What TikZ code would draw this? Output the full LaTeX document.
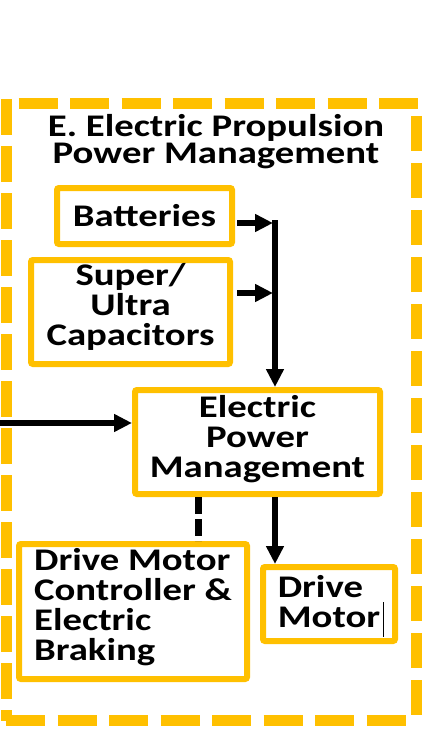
\documentclass[tikz,border=0pt]{standalone}
\usepackage{fontspec}
\newfontfamily\boxfont{Carlito}[FakeStretch=1.23]
\usepackage{tikz}
\usetikzlibrary{arrows.meta}
\definecolor{gold}{HTML}{FFC000}

\tikzset{
	frame/.style={draw=gold, line width=11pt},
	blk/.style={draw=gold, line width=6pt, rounded corners=2pt, inner sep=0pt, align=center, text depth=0pt,
		font={\boxfont\bfseries\fontsize{31.5}{30}\selectfont}},
	blkl/.style={blk, align=left},
	arr/.style={-{Triangle[length=18pt,width=17pt]}, line width=5.5pt},
	ctrl/.style={line width=7pt, dash pattern=on 17pt off 5pt}
}

\begin{document}
\begin{tikzpicture}[x=1pt, y=-1pt]
		% Size and dashed frame:
		\useasboundingbox (0,0) rectangle (443,746);
		\draw[frame, dash pattern=on 39pt off 12.5pt, dash phase=39pt] (6,104) -- (422,104);
		\draw[frame, dash pattern=on 39pt off 12.5pt] (6,720.5) -- (416.5,720.5);
		\draw[frame, dash pattern=on 35pt off 12pt, dash phase=35pt] (416.5,104) -- (416.5,726);
		\draw[frame, dash pattern=on 36pt off 11pt] (6,99) -- (6,720.5);
		% Title and boxes:
		\node[font={\boxfont\bfseries\fontsize{31.5}{27}\selectfont}, align=center, inner sep=0pt, anchor=base] (ttl) at (216,164) {E. Electric Propulsion\\Power Management};
		\node[blk, minimum width=175pt, minimum height=56pt, text height=20pt] (bat) at (144.5,216) {Batteries};
		\node[blk, minimum width=199pt, minimum height=104pt, text height=66pt] (cap) at (130.5,312) {Super/\\Ultra\\Capacitors};
		\node[blk, minimum width=245pt, minimum height=104pt, text height=70pt] (epm) at (257.5,442) {Electric\\Power\\Management};
		\node[blkl, minimum width=228pt, minimum height=135pt, text height=97pt] (dmc) at (133,611.5) {Drive Motor\\Controller \&\\Electric\\Braking};
		\node[blkl, minimum width=132pt, minimum height=74pt, text height=46pt] (dm) at (329,604) {Drive\\Motor};
		\draw[line width=1pt] (383,602) -- (383,637);
		% Connectors:
		\coordinate (j1) at (275,223);
		\coordinate (j2) at (275,293);
		\coordinate (lin) at (0,423);
		\draw[arr] ([xshift=2pt]bat.east |- j1) -- ([xshift=-2pt]j1);
		\draw[arr] ([xshift=4pt]cap.east |- j2) -- ([xshift=-2pt]j2);
		\draw[arr] ([yshift=2.75pt]j1) -- (j1 |- epm.north);
		\draw[arr] (lin) -- (lin -| epm.west);
		\draw[ctrl] ([xshift=-59.5pt]epm.south) -- ([xshift=-59.5pt]epm.south |- dmc.north);
		\draw[arr] (j1 |- epm.south) -- (j1 |- dm.north);
	\end{tikzpicture}
\end{document}
